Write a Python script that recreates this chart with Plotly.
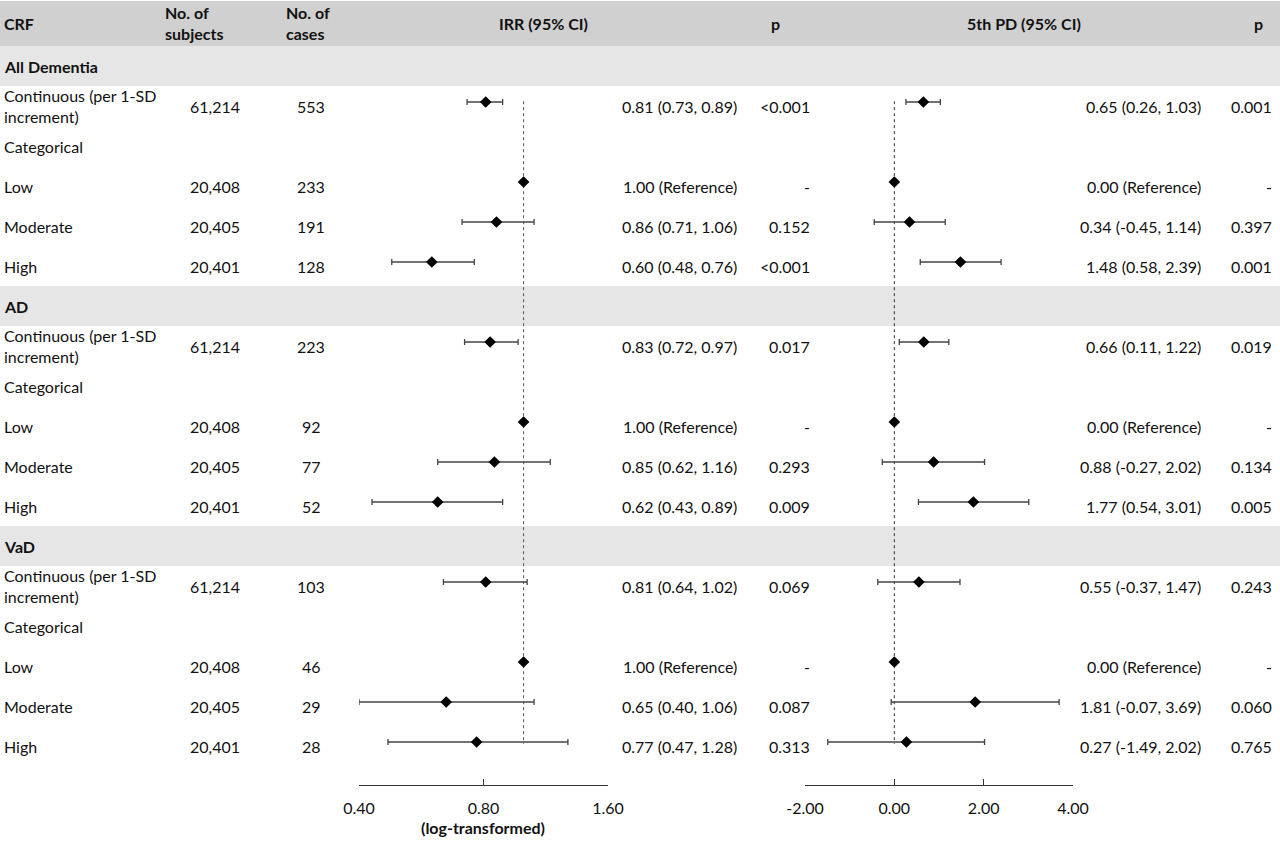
import plotly.graph_objects as go

groups = ["All Dementia", "AD", "VaD"]
row_labels = ["Continuous (per 1-SD<br>increment)", "Categorical", "Low", "Moderate", "High"]
subjects = ["61,214", "", "20,408", "20,405", "20,401"]
cases = [["553", "", "233", "191", "128"],
         ["223", "", "92", "77", "52"],
         ["103", "", "46", "29", "28"]]

irr = [[0.81, None, 1.00, 0.86, 0.60],
       [0.83, None, 1.00, 0.85, 0.62],
       [0.81, None, 1.00, 0.65, 0.77]]
irr_lo = [[0.73, None, 1.00, 0.71, 0.48],
          [0.72, None, 1.00, 0.62, 0.43],
          [0.64, None, 1.00, 0.40, 0.47]]
irr_hi = [[0.89, None, 1.00, 1.06, 0.76],
          [0.97, None, 1.00, 1.16, 0.89],
          [1.02, None, 1.00, 1.06, 1.28]]
irr_p = [["<0.001", "", "-", "0.152", "<0.001"],
         ["0.017", "", "-", "0.293", "0.009"],
         ["0.069", "", "-", "0.087", "0.313"]]

pd5 = [[0.65, None, 0.00, 0.34, 1.48],
       [0.66, None, 0.00, 0.88, 1.77],
       [0.55, None, 0.00, 1.81, 0.27]]
pd5_lo = [[0.26, None, 0.00, -0.45, 0.58],
          [0.11, None, 0.00, -0.27, 0.54],
          [-0.37, None, 0.00, -0.07, -1.49]]
pd5_hi = [[1.03, None, 0.00, 1.14, 2.39],
          [1.22, None, 0.00, 2.02, 3.01],
          [1.47, None, 0.00, 3.69, 2.02]]
pd5_p = [["0.001", "", "-", "0.397", "0.001"],
         ["0.019", "", "-", "0.134", "0.005"],
         ["0.243", "", "-", "0.060", "0.765"]]

irr_ticks = [0.40, 0.80, 1.60]
pd_ticks = [-2.00, 0.00, 2.00, 4.00]

W, H = 1280, 853
FONT = "Lato"
TXT = "#111111"
FS = 16


def px(x):
    return x / W


def ci_text(v, lo, hi, ref):
    if v is None:
        return ""
    if v == ref and lo == ref and hi == ref:
        return f"{v:.2f} (Reference)"
    return f"{v:.2f} ({lo:.2f}, {hi:.2f})"


fig = go.Figure()
shapes = []
ann = []


def add_text(x, y, text, anchor="left", bold=False):
    if text == "":
        return
    ann.append(dict(x=px(x), y=y, xref="paper", yref="y", text=f"<b>{text}</b>" if bold else text,
                    showarrow=False, xanchor=anchor, yanchor="middle", align="left",
                    font=dict(family=FONT, size=FS, color=TXT)))


# header band
shapes.append(dict(type="rect", xref="paper", yref="y", x0=0, x1=1, y0=-1.625, y1=-0.5,
                   fillcolor="#d0d0d0", line_width=0, layer="below"))
add_text(2, -1.075, "CRF", bold=True)
add_text(163, -1.075, "No. of<br>subjects", bold=True)
add_text(284, -1.075, "No. of<br>cases", bold=True)
add_text(543, -1.075, "IRR (95% CI)", anchor="center", bold=True)
add_text(775, -1.075, "p", anchor="center", bold=True)
add_text(1024, -1.075, "5th PD (95% CI)", anchor="center", bold=True)
add_text(1258, -1.075, "p", anchor="center", bold=True)

irr_rows = dict(x=[], y=[], plus=[], minus=[])
pd_rows = dict(x=[], y=[], plus=[], minus=[])
row_ys = []

for g, name in enumerate(groups):
    k0 = 6 * g
    shapes.append(dict(type="rect", xref="paper", yref="y", x0=0, x1=1, y0=k0 - 0.5, y1=k0 + 0.5,
                       fillcolor="#e6e6e6", line_width=0, layer="below"))
    add_text(2, k0, name, bold=True)
    for i, lab in enumerate(row_labels):
        k = k0 + 1 + i
        add_text(2, k, lab)
        add_text(215, k, subjects[i], anchor="center")
        add_text(311, k, cases[g][i], anchor="center")
        add_text(739, k, ci_text(irr[g][i], irr_lo[g][i], irr_hi[g][i], 1.0), anchor="right")
        add_text(812, k, irr_p[g][i], anchor="right")
        add_text(1203, k, ci_text(pd5[g][i], pd5_lo[g][i], pd5_hi[g][i], 0.0), anchor="right")
        add_text(1274, k, pd5_p[g][i], anchor="right")
        if irr[g][i] is not None:
            row_ys.append(k)
            irr_rows["x"].append(irr[g][i])
            irr_rows["y"].append(k - 0.1)
            irr_rows["plus"].append(irr_hi[g][i] - irr[g][i])
            irr_rows["minus"].append(irr[g][i] - irr_lo[g][i])
            pd_rows["x"].append(pd5[g][i])
            pd_rows["y"].append(k - 0.1)
            pd_rows["plus"].append(pd5_hi[g][i] - pd5[g][i])
            pd_rows["minus"].append(pd5[g][i] - pd5_lo[g][i])

# null lines (dotted)
y_line = [min(row_ys) - 0.12, max(row_ys) - 0.05]
fig.add_trace(go.Scatter(x=[1.0, 1.0], y=y_line, mode="lines", xaxis="x", yaxis="y",
                         line=dict(color="#555555", width=1, dash="dot"), hoverinfo="skip"))
fig.add_trace(go.Scatter(x=[0.0, 0.0], y=y_line, mode="lines", xaxis="x2", yaxis="y",
                         line=dict(color="#333333", width=1, dash="dot"), hoverinfo="skip"))

for rows, xa in ((irr_rows, "x"), (pd_rows, "x2")):
    fig.add_trace(go.Scatter(
        x=rows["x"], y=rows["y"], mode="markers", xaxis=xa, yaxis="y",
        marker=dict(symbol="diamond", size=9, color="black"),
        error_x=dict(type="data", symmetric=False, array=rows["plus"], arrayminus=rows["minus"],
                     color="#444444", thickness=1.3, width=3),
        hoverinfo="skip"))

# axis title under the log axis
ann.append(dict(x=px(483), y=1 - 827 / H, xref="paper", yref="paper", text="<b>(log-transformed)</b>",
                showarrow=False, xanchor="center", yanchor="middle",
                font=dict(family=FONT, size=FS, color=TXT)))

axis_pos = 1 - 785 / H
common_axis = dict(showgrid=False, zeroline=False, showline=True, linecolor="#333333", linewidth=1,
                   ticks="inside", ticklen=6, tickwidth=1, tickcolor="#333333", anchor="free",
                   position=axis_pos, tickfont=dict(family=FONT, size=FS, color=TXT),
                   ticklabelstandoff=9, fixedrange=True, automargin=False)

fig.update_layout(
    width=W, height=H, autosize=False, margin=dict(l=0, r=0, t=0, b=0, pad=0),
    paper_bgcolor="white", plot_bgcolor="rgba(0,0,0,0)",
    showlegend=False, shapes=shapes, annotations=ann,
    xaxis=dict(common_axis, type="log", domain=[px(359), px(608)],
               range=[-0.39794, 0.20412], tickvals=irr_ticks,
               ticktext=[f"{t:.2f}" for t in irr_ticks]),
    xaxis2=dict(common_axis, domain=[px(805), px(1073)], range=[-2, 4],
                tickvals=pd_ticks, ticktext=[f"{t:.2f}" for t in pd_ticks]),
    yaxis=dict(range=[(H - 66) / 40, -66 / 40], visible=False, domain=[0, 1],
               fixedrange=True, automargin=False),
)

# page without body margin so the 1280x853 figure sits at the window origin
fig.write_html("out.html", config={"responsive": False, "displayModeBar": False},
               post_script="document.body.style.margin='0';document.body.style.overflow='hidden';")
